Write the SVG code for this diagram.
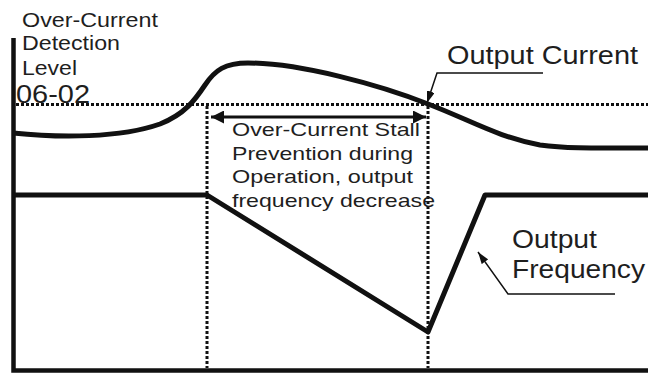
<svg xmlns="http://www.w3.org/2000/svg" width="648" height="373" viewBox="0 0 648 373">
<defs>
<style>
.t{font-family:"Liberation Sans",Arial,sans-serif;fill:#1e1e1e;}
.axis{stroke:#111;stroke-width:4.5;fill:none;}
.curve{stroke:#111;stroke-width:5;fill:none;stroke-linejoin:round;}
.dot{stroke:#111;stroke-width:3;stroke-dasharray:3 2;fill:none;}
.lead{stroke:#111;stroke-width:1.5;fill:none;}
.dbl{stroke:#111;stroke-width:3;fill:none;}
</style>
<marker id="ah" viewBox="0 0 12 8" refX="12" refY="4" markerWidth="12" markerHeight="8" markerUnits="userSpaceOnUse" orient="auto">
<path d="M0,0 L12,4 L0,8 Z" fill="#111"/>
</marker>
<marker id="ahb" viewBox="0 0 13 13" refX="13" refY="6.5" markerWidth="13" markerHeight="13" markerUnits="userSpaceOnUse" orient="auto-start-reverse">
<path d="M0,0 L13,6.5 L0,13 Z" fill="#111"/>
</marker>
</defs>
<rect width="648" height="373" fill="#fff"/>
<g id="axes">
<path class="axis" d="M13.5,38 V370.5 H648"/>
</g>
<g id="level-line">
<path class="dot" d="M16,104.5 H648"/>
</g>
<g id="markers">
<path class="dot" d="M207,106 V368"/>
<path class="dot" d="M428,106 V368"/>
</g>
<g id="output-current-curve">
<path class="curve" d="M13,133 C60,138 120,138 160,124 C185,114 195,100 205,85 C215,70 225,63 248,63 C300,63 380,85 428,104 C470,120 500,138 540,145 C570,149 600,148 648,148"/>
</g>
<g id="output-frequency-curve">
<path class="curve" d="M13,195 H207 L428,332 L485,195 H648"/>
</g>
<g id="label-level">
<text class="t" x="22" y="27" font-size="20" textLength="136" lengthAdjust="spacingAndGlyphs">Over-Current</text>
<text class="t" x="22" y="50" font-size="20" textLength="98" lengthAdjust="spacingAndGlyphs">Detection</text>
<text class="t" x="22" y="75" font-size="20" textLength="55" lengthAdjust="spacingAndGlyphs">Level</text>
<text class="t" x="16" y="103" font-size="25" textLength="74" lengthAdjust="spacingAndGlyphs">06-02</text>
</g>
<g id="label-stall">
<text class="t" x="232" y="136" font-size="19" textLength="188" lengthAdjust="spacingAndGlyphs">Over-Current Stall</text>
<text class="t" x="232" y="160" font-size="19" textLength="181" lengthAdjust="spacingAndGlyphs">Prevention during</text>
<text class="t" x="232" y="183" font-size="19" textLength="181" lengthAdjust="spacingAndGlyphs">Operation, output</text>
<text class="t" x="232" y="207" font-size="19" textLength="203" lengthAdjust="spacingAndGlyphs">frequency decrease</text>
</g>
<g id="label-output-current">
<text class="t" x="447" y="64" font-size="25" textLength="191" lengthAdjust="spacingAndGlyphs">Output Current</text>
</g>
<g id="label-output-frequency">
<text class="t" x="512" y="248" font-size="25" textLength="85" lengthAdjust="spacingAndGlyphs">Output</text>
<text class="t" x="512" y="278" font-size="25" textLength="133" lengthAdjust="spacingAndGlyphs">Frequency</text>
</g>
<g id="connectors">
<path class="dbl" d="M211,117 H426" marker-start="url(#ahb)" marker-end="url(#ahb)"/>
<path class="lead" d="M543,73 H437 L427,103" marker-end="url(#ah)"/>
<path class="lead" d="M615,294 H508 L478,252" marker-end="url(#ah)"/>
</g>
</svg>
